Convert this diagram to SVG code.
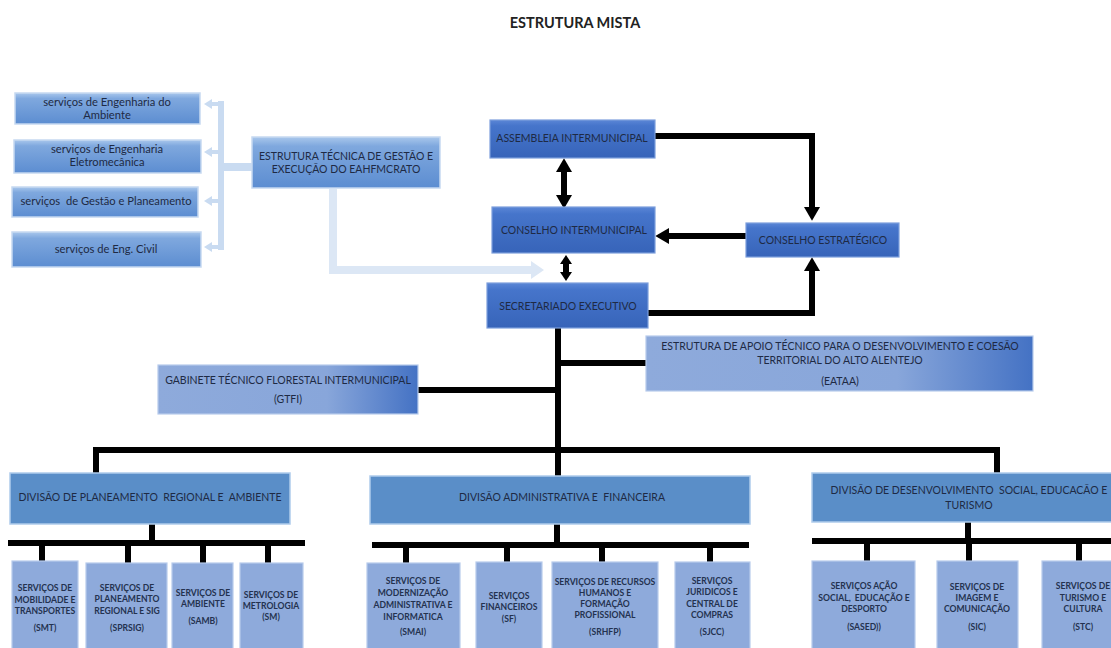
<svg xmlns="http://www.w3.org/2000/svg" width="1111" height="648" viewBox="0 0 1111 648">
<style>
.t{font-family:Lato,"Liberation Sans",sans-serif;fill:#1E2A44;text-anchor:middle;font-size:10.5px}
.s{font-size:8.6px;font-weight:bold;fill:#24324F}
.sl{font-size:11.2px}
.bk{stroke:#000;stroke-width:6;fill:none;stroke-linejoin:miter}
.lb{stroke:#C9DBF1;fill:none}
.boxL{fill:url(#gL);stroke:#C6D9F1;stroke-width:1.5}
.boxB{fill:url(#gB);stroke:#7C9EDC;stroke-width:1.2}
.boxD{fill:#5A8EC8;stroke:#AFCBEB;stroke-width:1.5}
.boxS{fill:#8EAADB;stroke:#B7CBEB;stroke-width:1.2}
.boxG{fill:url(#gG);stroke:#B7CBEB;stroke-width:1.2}
</style>
<defs>
<linearGradient id="gL" x1="0" y1="0" x2="0" y2="1">
<stop offset="0" stop-color="#A9C7EC"/><stop offset="0.18" stop-color="#7FA8DE"/><stop offset="1" stop-color="#5C8DD1"/>
</linearGradient>
<linearGradient id="gB" x1="0" y1="0" x2="0" y2="1">
<stop offset="0" stop-color="#5B86D6"/><stop offset="0.15" stop-color="#4675CB"/><stop offset="1" stop-color="#3764B9"/>
</linearGradient>
<linearGradient id="gG" x1="0" y1="0" x2="1" y2="0">
<stop offset="0" stop-color="#8EAADB"/><stop offset="0.65" stop-color="#88A6DA"/><stop offset="1" stop-color="#4472C4"/>
</linearGradient>
<marker id="ah" markerUnits="userSpaceOnUse" markerWidth="16" markerHeight="16" refX="0" refY="7" orient="auto-start-reverse" viewBox="0 0 12 14">
<path d="M0,0 L12,7 L0,14 z" fill="#000"/>
</marker>
<marker id="ahs" markerUnits="userSpaceOnUse" markerWidth="10" markerHeight="12" refX="0" refY="6" orient="auto-start-reverse" viewBox="0 0 9 12">
<path d="M0,0 L9,6 L0,12 z" fill="#000"/>
</marker>
<marker id="lah" markerUnits="userSpaceOnUse" markerWidth="14" markerHeight="18" refX="0" refY="9" orient="auto" viewBox="0 0 13 18">
<path d="M0,0 L13,9 L0,18 z" fill="#DCE7F5"/>
</marker>
<marker id="lahs" markerUnits="userSpaceOnUse" markerWidth="9" markerHeight="10" refX="0" refY="5" orient="auto" viewBox="0 0 8 10">
<path d="M0,0 L8,5 L0,10 z" fill="#C9DBF1"/>
</marker>
</defs>

<text x="575" y="28" style="font-family:Lato,'Liberation Sans',sans-serif;font-weight:bold;font-size:14.5px;text-anchor:middle;fill:#222">ESTRUTURA MISTA</text>

<g id="connectors">
<path class="lb" stroke-width="6" d="M221,101 V250"/>
<path class="lb" stroke-width="4" d="M221,104 H212" marker-end="url(#lahs)"/>
<path class="lb" stroke-width="4" d="M221,152 H212" marker-end="url(#lahs)"/>
<path class="lb" stroke-width="4" d="M221,201 H212" marker-end="url(#lahs)"/>
<path class="lb" stroke-width="4" d="M221,247 H212" marker-end="url(#lahs)"/>
<path class="lb" stroke-width="8" d="M224,167 H252"/>
<path stroke="#DCE7F5" stroke-width="8" fill="none" d="M333,189 V270 H531" marker-end="url(#lah)"/>
<path class="bk" d="M564,172 V195" marker-start="url(#ah)" marker-end="url(#ah)"/>
<path class="bk" stroke-width="5" d="M566,264 V272" marker-start="url(#ahs)" marker-end="url(#ahs)"/>
<path class="bk" d="M655,136 H812 V207" marker-end="url(#ah)"/>
<path class="bk" d="M746,236 H669" marker-end="url(#ah)"/>
<path class="bk" d="M648,313 H812 V271" marker-end="url(#ah)"/>
<path class="bk" d="M558,328 V476"/>
<path class="bk" d="M558,363 H646"/>
<path class="bk" d="M418,390 H558"/>
<path class="bk" stroke-width="7" d="M96,473 V450 H997 V473"/>
<path class="bk" d="M152,524 V543"/>
<path class="bk" d="M8,543 H305"/>
<path class="bk" d="M557,524 V545"/>
<path class="bk" d="M372,545 H749"/>
<path class="bk" d="M968,522 V541"/>
<path class="bk" d="M812,541 H1111"/>
<path class="bk" stroke-width="5" d="M42,543 V561 M128,543 V563 M203,543 V563 M268,543 V563"/>
<path class="bk" stroke-width="5" d="M406,545 V563 M507,545 V562 M602,545 V562 M710,545 V562"/>
<path class="bk" stroke-width="5" d="M867,541 V561 M969,541 V561 M1079,541 V561"/>
</g>

<g id="n-eng-ambiente"><rect class="boxL" x="15" y="93" width="185" height="31"/>
<text class="t sl" x="107" y="106">serviços de Engenharia do</text><text class="t sl" x="107" y="119">Ambiente</text></g>
<g id="n-eng-eletro"><rect class="boxL" x="14" y="140" width="187" height="33"/>
<text class="t sl" x="107" y="153">serviços de Engenharia</text><text class="t sl" x="107" y="166">Eletromecânica</text></g>
<g id="n-gestao"><rect class="boxL" x="12" y="187" width="186" height="30"/>
<text class="t sl" x="106" y="205" xml:space="preserve">serviços  de Gestão e Planeamento</text></g>
<g id="n-civil"><rect class="boxL" x="12" y="232" width="189" height="35"/>
<text class="t sl" x="106" y="253">serviços de Eng. Civil</text></g>

<g id="n-eahfmcrato"><rect class="boxL" x="252" y="137" width="188" height="51"/>
<text class="t" x="346" y="160">ESTRUTURA TÉCNICA DE GESTÃO E</text><text class="t" x="346" y="173">EXECUÇÃO DO EAHFMCRATO</text></g>

<g id="n-assembleia"><rect class="boxB" x="490" y="120" width="165" height="38"/>
<text class="t" x="572" y="142">ASSEMBLEIA INTERMUNICIPAL</text></g>
<g id="n-conselho"><rect class="boxB" x="492" y="207" width="163" height="46"/>
<text class="t" x="574" y="234">CONSELHO INTERMUNICIPAL</text></g>
<g id="n-secretariado"><rect class="boxB" x="487" y="283" width="161" height="45"/>
<text class="t" x="568" y="310">SECRETARIADO EXECUTIVO</text></g>
<g id="n-estrategico"><rect class="boxB" x="746" y="223" width="153" height="34"/>
<text class="t" x="823" y="244">CONSELHO ESTRATÉGICO</text></g>

<g id="n-gtfi"><rect class="boxG" x="158" y="365" width="260" height="49"/>
<text class="t" x="288" y="384">GABINETE TÉCNICO FLORESTAL INTERMUNICIPAL</text><text class="t" x="288" y="403">(GTFI)</text></g>
<g id="n-eataa"><rect class="boxG" x="646" y="336" width="387" height="55"/>
<text class="t" x="840" y="350">ESTRUTURA DE APOIO TÉCNICO PARA O DESENVOLVIMENTO E COESÃO</text>
<text class="t" x="840" y="364">TERRITORIAL DO ALTO ALENTEJO</text><text class="t" x="840" y="385">(EATAA)</text></g>

<g id="n-div-planeamento"><rect class="boxD" x="10" y="473" width="280" height="51"/>
<text class="t" x="150" y="501" xml:space="preserve">DIVISÃO DE PLANEAMENTO  REGIONAL E  AMBIENTE</text></g>
<g id="n-div-admin"><rect class="boxD" x="370" y="476" width="380" height="48"/>
<text class="t" x="562" y="501" xml:space="preserve">DIVISÃO ADMINISTRATIVA E  FINANCEIRA</text></g>
<g id="n-div-desenv"><rect class="boxD" x="812" y="473" width="305" height="49"/>
<text class="t" x="969" y="494" xml:space="preserve">DIVISÃO DE DESENVOLVIMENTO  SOCIAL, EDUCACÃO E</text><text class="t" x="969" y="509">TURISMO</text></g>

<g id="n-smt"><rect class="boxS" x="12" y="561" width="66" height="92"/>
<text class="t s" x="45" y="591">SERVIÇOS DE</text><text class="t s" x="45" y="603">MOBILIDADE E</text><text class="t s" x="45" y="614">TRANSPORTES</text><text class="t s" x="45" y="631">(SMT)</text></g>
<g id="n-sprsig"><rect class="boxS" x="86" y="563" width="81" height="90"/>
<text class="t s" x="127" y="591">SERVIÇOS DE</text><text class="t s" x="127" y="602">PLANEAMENTO</text><text class="t s" x="127" y="614">REGIONAL E SIG</text><text class="t s" x="127" y="631">(SPRSIG)</text></g>
<g id="n-samb"><rect class="boxS" x="172" y="563" width="61" height="90"/>
<text class="t s" x="203" y="596">SERVIÇOS DE</text><text class="t s" x="203" y="607">AMBIENTE</text><text class="t s" x="203" y="624">(SAMB)</text></g>
<g id="n-sm"><rect class="boxS" x="240" y="563" width="63" height="90"/>
<text class="t s" x="271" y="598">SERVIÇOS DE</text><text class="t s" x="271" y="609">METROLOGIA</text><text class="t s" x="271" y="620">(SM)</text></g>

<g id="n-smai"><rect class="boxS" x="367" y="563" width="93" height="90"/>
<text class="t s" x="413" y="584">SERVIÇOS DE</text><text class="t s" x="413" y="596">MODERNIZAÇÃO</text><text class="t s" x="413" y="608">ADMINISTRATIVA E</text><text class="t s" x="413" y="620">INFORMATICA</text><text class="t s" x="413" y="635">(SMAI)</text></g>
<g id="n-sf"><rect class="boxS" x="476" y="562" width="66" height="91"/>
<text class="t s" x="509" y="599">SERVIÇOS</text><text class="t s" x="509" y="610">FINANCEIROS</text><text class="t s" x="509" y="622">(SF)</text></g>
<g id="n-srhfp"><rect class="boxS" x="552" y="562" width="106" height="91"/>
<text class="t s" x="605" y="585">SERVIÇOS DE RECURSOS</text><text class="t s" x="605" y="596">HUMANOS E</text><text class="t s" x="605" y="607">FORMAÇÃO</text><text class="t s" x="605" y="618">PROFISSIONAL</text><text class="t s" x="605" y="635">(SRHFP)</text></g>
<g id="n-sjcc"><rect class="boxS" x="675" y="562" width="75" height="91"/>
<text class="t s" x="712" y="584">SERVIÇOS</text><text class="t s" x="712" y="595">JURIDICOS E</text><text class="t s" x="712" y="607">CENTRAL DE</text><text class="t s" x="712" y="618">COMPRAS</text><text class="t s" x="712" y="635">(SJCC)</text></g>

<g id="n-sased"><rect class="boxS" x="812" y="561" width="103" height="92"/>
<text class="t s" x="864" y="589">SERVIÇOS AÇÃO</text><text class="t s" x="864" y="601" xml:space="preserve">SOCIAL,  EDUCAÇÃO E</text><text class="t s" x="864" y="612">DESPORTO</text><text class="t s" x="864" y="630">(SASED))</text></g>
<g id="n-sic"><rect class="boxS" x="937" y="561" width="81" height="92"/>
<text class="t s" x="977" y="590">SERVIÇOS DE</text><text class="t s" x="977" y="601">IMAGEM E</text><text class="t s" x="977" y="612">COMUNICAÇÃO</text><text class="t s" x="977" y="630">(SIC)</text></g>
<g id="n-stc"><rect class="boxS" x="1042" y="561" width="80" height="92"/>
<text class="t s" x="1083" y="589">SERVIÇOS DE</text><text class="t s" x="1083" y="601">TURISMO E</text><text class="t s" x="1083" y="612">CULTURA</text><text class="t s" x="1083" y="630">(STC)</text></g>
</svg>
